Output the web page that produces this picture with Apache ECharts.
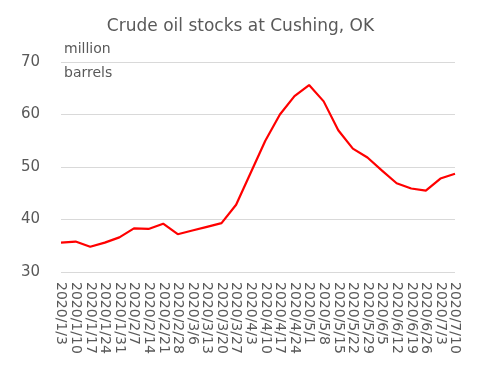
<!DOCTYPE html>
<html>
<head>
<meta charset="utf-8">
<script src="https://cdn.jsdelivr.net/npm/echarts@6/dist/echarts.min.js"></script>
<style>
  html, body { margin: 0; padding: 0; background: #fff; }
  #chart { width: 481px; height: 378px; }
</style>
</head>
<body>
<div id="chart"></div>
<script>
// weekly dates
const dates = [
  '2020/1/3', '2020/1/10', '2020/1/17', '2020/1/24', '2020/1/31',
  '2020/2/7', '2020/2/14', '2020/2/21', '2020/2/28',
  '2020/3/6', '2020/3/13', '2020/3/20', '2020/3/27',
  '2020/4/3', '2020/4/10', '2020/4/17', '2020/4/24',
  '2020/5/1', '2020/5/8', '2020/5/15', '2020/5/22', '2020/5/29',
  '2020/6/5', '2020/6/12', '2020/6/19', '2020/6/26',
  '2020/7/3', '2020/7/10'
]
// million barrels
const stocks = [
  35.6, 35.8, 34.8, 35.6, 36.6,
  38.3, 38.2, 39.2, 37.2,
  37.9, 38.6, 39.3, 42.8,
  48.9, 55.0, 60.0, 63.5,
  65.6, 62.5, 57.0, 53.5, 51.8,
  49.3, 46.9, 45.9, 45.5,
  47.8, 48.7
]

const textColor = '#595959'
const font = 'DejaVu Sans'

const chart = echarts.init(document.getElementById('chart'))

chart.setOption({
  animation: false,
  title: {
    text: 'Crude oil stocks at Cushing, OK',
    left: 'center',
    top: 13,
    textStyle: { color: textColor, fontSize: 17, fontWeight: 'normal', fontFamily: font }
  },
  graphic: [
    { type: 'text', left: 64, top: 42, style: { text: 'million', fill: textColor, font: '14px ' + font } },
    { type: 'text', left: 64, top: 66, style: { text: 'barrels', fill: textColor, font: '14px ' + font } }
  ],
  grid: {
    left: 61,
    right: 26,
    top: 62,
    bottom: 106
  },
  xAxis: {
    type: 'category',
    data: dates,
    boundaryGap: false,
    axisLine: { show: false },
    axisTick: { show: false },
    axisLabel: {
      interval: 0,
      rotate: -90,
      margin: 10,
      color: textColor,
      fontSize: 14,
      fontFamily: font
    }
  },
  yAxis: {
    type: 'value',
    min: 30,
    max: 70,
    interval: 10,
    axisLine: { show: false },
    axisTick: { show: false },
    axisLabel: { color: textColor, fontSize: 15, fontFamily: font, margin: 21 },
    splitLine: { lineStyle: { color: '#d9d9d9', width: 1 } }
  },
  series: [{
    name: 'Cushing',
    type: 'line',
    data: stocks,
    showSymbol: false,
    lineStyle: { color: '#ff0000', width: 2.2 }
  }]
})
</script>
</body>
</html>
